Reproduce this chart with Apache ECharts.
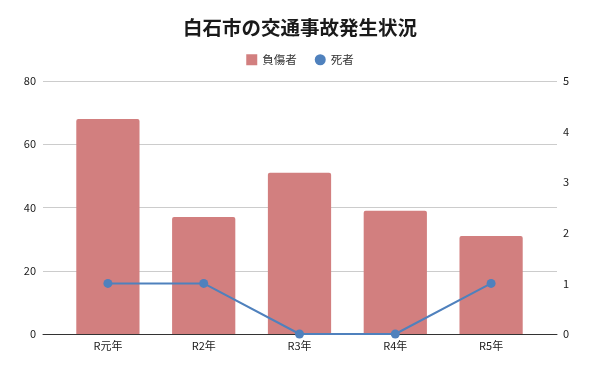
<!DOCTYPE html>
<html><head><meta charset="utf-8">
<script src="https://cdn.jsdelivr.net/npm/echarts@6/dist/echarts.min.js"></script>
<style>html,body{margin:0;padding:0;background:#fff}#c{width:600px;height:371px}</style>
</head><body><div id="c"></div>
<script>
const categories = ['R元年','R2年','R3年','R4年','R5年'];
const injured = [68, 37, 51, 39, 31];
const deaths = [1, 1, 0, 0, 1];
const leftTicks = {min:0, max:80, interval:20};
const rightTicks = {min:0, max:5, interval:1};

const font = '"Noto Sans CJK JP", "Noto Sans", sans-serif';
const chart = echarts.init(document.getElementById('c'), null, {renderer:'canvas'});
chart.setOption({
  backgroundColor:'#fff',
  animation:false,
  title:{text:'白石市の交通事故発生状況', left:'center', top:13,
    textStyle:{fontSize:19.5, fontWeight:'bold', color:'#1a1a1a', fontFamily:font}},
  legend:{top:49, left:'center', itemGap:18, itemWidth:11, itemHeight:11,
    textStyle:{fontSize:11.5, color:'#333', fontFamily:font},
    data:[{name:'負傷者', icon:'rect'},{name:'死者', icon:'circle'}]},
  grid:[
    {left:60, right:61, top:81, bottom:37},
    {left:43, right:43, top:81, bottom:37}
  ],
  xAxis:[
    {type:'category', gridIndex:0, data:categories, axisLine:{show:false}, axisTick:{show:false},
      axisLabel:{fontSize:11, color:'#1a1a1a', margin:6, fontFamily:font}},
    {type:'category', gridIndex:1, data:categories, axisLine:{show:true, lineStyle:{color:'#333', width:1}},
      axisTick:{show:false}, axisLabel:{show:false}}
  ],
  yAxis:[
    {type:'value', gridIndex:0, position:'left', min:leftTicks.min, max:leftTicks.max, interval:leftTicks.interval,
      axisLine:{show:false}, axisTick:{show:false}, splitLine:{show:false},
      axisLabel:{fontSize:11, color:'#1a1a1a', margin:24, fontFamily:font}},
    {type:'value', gridIndex:0, position:'right', min:rightTicks.min, max:rightTicks.max, interval:rightTicks.interval,
      axisLine:{show:false}, axisTick:{show:false}, splitLine:{show:false},
      axisLabel:{fontSize:11, color:'#1a1a1a', margin:24, fontFamily:font}},
    {type:'value', gridIndex:1, min:leftTicks.min, max:leftTicks.max, interval:leftTicks.interval,
      axisLine:{show:false}, axisTick:{show:false}, axisLabel:{show:false},
      splitLine:{show:true, lineStyle:{color:'#cccccc', width:1}}}
  ],
  series:[
    {name:'負傷者', type:'bar', xAxisIndex:0, yAxisIndex:0, data:injured, barCategoryGap:'34%',
      itemStyle:{color:'#d27f7f', borderRadius:[2,2,0,0]}, z:2},
    {name:'死者', type:'line', xAxisIndex:0, yAxisIndex:1, data:deaths, symbol:'circle', symbolSize:9,
      lineStyle:{color:'#4f81bd', width:2}, itemStyle:{color:'#4f81bd'}, z:3}
  ]
});
</script></body></html>
